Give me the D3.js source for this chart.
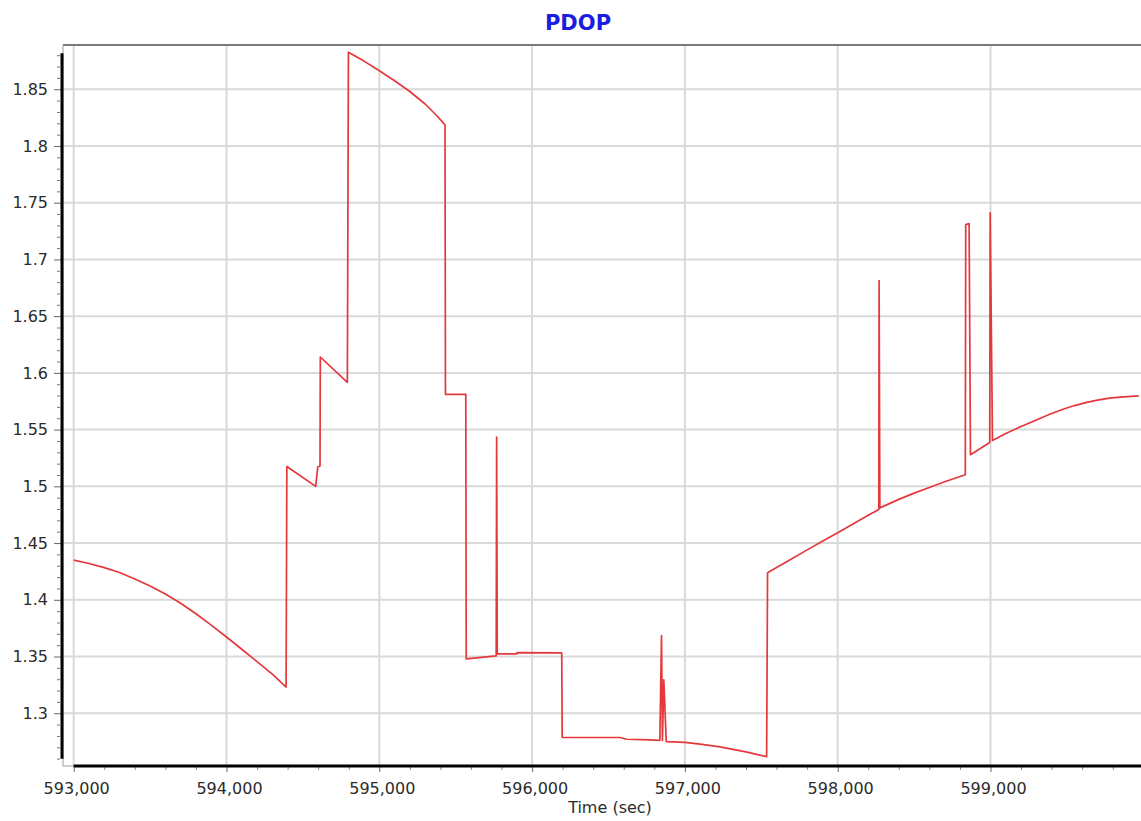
<!DOCTYPE html>
<html>
<head>
<meta charset="utf-8">
<script src="https://cdn.jsdelivr.net/npm/d3@7"></script>
<style>
  html, body { margin: 0; padding: 0; background: #fff; }
  svg { display: block; }
  text { font-family: "DejaVu Sans", Verdana, sans-serif; }
</style>
</head>
<body>
<svg id="chart" width="1141" height="821"></svg>
<script>
// ---- data ----
const titleText = "PDOP";
const xAxisTitle = "Time (sec)";

const timeSec = [
  593000, 593100, 593200, 593300, 593400, 593500, 593600, 593700, 593800, 593900,
  594000, 594100, 594200, 594300, 594390,
  594395, 594584, 594597, 594612, 594614, 594791,
  594798, 594900, 595000, 595100, 595200, 595300, 595380, 595430,
  595433, 595566, 595569, 595765, 595768, 595772, 595899, 595902, 596194,
  596197, 596575, 596619, 596771, 596836, 596847, 596853, 596862, 596878,
  597000, 597100, 597229, 597400, 597535,
  597541, 597600, 597700, 597800, 597900, 598000, 598100, 598200, 598269, 598271, 598276,
  598400, 598500, 598600, 598700, 598835, 598838, 598860, 598869, 598995, 598998, 599013,
  599100, 599200, 599300, 599388, 599470, 599550, 599630, 599700, 599780, 599850, 599970
];
const pdop = [
  1.4350, 1.4320, 1.4284, 1.4240, 1.4183, 1.4121, 1.4051, 1.3969, 1.3877, 1.3777,
  1.3672, 1.3564, 1.3455, 1.3344, 1.3231,
  1.5175, 1.5000, 1.5170, 1.5180, 1.6140, 1.5916,
  1.8827, 1.8748, 1.8663, 1.8575, 1.8480, 1.8370, 1.8262, 1.8186,
  1.5811, 1.5811, 1.3479, 1.3505, 1.5435, 1.3523, 1.3523, 1.3535, 1.3532,
  1.2788, 1.2786, 1.2771, 1.2765, 1.2760, 1.3685, 1.2760, 1.3294, 1.2750,
  1.2744, 1.2728, 1.2703, 1.2660, 1.2617,
  1.4238, 1.4285, 1.4362, 1.4440, 1.4515, 1.4590, 1.4668, 1.4745, 1.4795, 1.6814, 1.4810,
  1.4885, 1.4940, 1.4990, 1.5040, 1.5102, 1.7307, 1.7316, 1.5279, 1.5387, 1.7411, 1.5405,
  1.5466, 1.5528, 1.5585, 1.5635, 1.5677, 1.5712, 1.5740, 1.5760, 1.5777, 1.5787, 1.5797
];

const xMajorTicks = [593000, 594000, 595000, 596000, 597000, 598000, 599000];
const xMinorTicks = [593200, 593400, 593600, 593800, 594200, 594400, 594600, 594800,
  595200, 595400, 595600, 595800, 596200, 596400, 596600, 596800,
  597200, 597400, 597600, 597800, 598200, 598400, 598600, 598800,
  599200, 599400, 599600, 599800];
const yMajorTicks = [1.3, 1.35, 1.4, 1.45, 1.5, 1.55, 1.6, 1.65, 1.7, 1.75, 1.8, 1.85];
const yMajorLabels = ["1.3", "1.35", "1.4", "1.45", "1.5", "1.55", "1.6", "1.65", "1.7", "1.75", "1.8", "1.85"];
const yMinorTicks = [1.26, 1.27, 1.28, 1.29, 1.31, 1.32, 1.33, 1.34, 1.36, 1.37, 1.38, 1.39,
  1.41, 1.42, 1.43, 1.44, 1.46, 1.47, 1.48, 1.49, 1.51, 1.52, 1.53, 1.54,
  1.56, 1.57, 1.58, 1.59, 1.61, 1.62, 1.63, 1.64, 1.66, 1.67, 1.68, 1.69,
  1.71, 1.72, 1.73, 1.74, 1.76, 1.77, 1.78, 1.79, 1.81, 1.82, 1.83, 1.84,
  1.86, 1.87, 1.88];

// ---- layout ----
const plotLeft = 63, plotRight = 1141, plotTop = 45, plotBottom = 766;
const svg = d3.select("#chart");

const x = d3.scaleLinear().domain([592930, 599985]).range([plotLeft, plotRight]);
const y = d3.scaleLinear().domain([1.2535, 1.889]).range([plotBottom, plotTop]);

// grid
const grid = svg.append("g");
grid.selectAll("line.v").data(xMajorTicks).enter().append("line")
  .attr("class", "v")
  .attr("x1", d => x(d)).attr("x2", d => x(d))
  .attr("y1", plotTop).attr("y2", plotBottom)
  .attr("stroke", "#d9d9d9").attr("stroke-width", 2);
grid.selectAll("line.h").data(yMajorTicks).enter().append("line")
  .attr("class", "h")
  .attr("x1", plotLeft).attr("x2", plotRight)
  .attr("y1", d => y(d)).attr("y2", d => y(d))
  .attr("stroke", "#d9d9d9").attr("stroke-width", 2);

// frame
svg.append("line").attr("x1", plotLeft).attr("x2", plotRight).attr("y1", plotTop).attr("y2", plotTop)
  .attr("stroke", "#7a7a7a").attr("stroke-width", 2.2);
svg.append("line").attr("x1", plotLeft).attr("x2", plotLeft).attr("y1", plotTop).attr("y2", plotBottom)
  .attr("stroke", "#9a9a9a").attr("stroke-width", 1);
svg.append("line").attr("x1", plotLeft).attr("x2", plotRight).attr("y1", plotBottom).attr("y2", plotBottom)
  .attr("stroke", "#9a9a9a").attr("stroke-width", 1);

// data line
const line = d3.line().x((d, i) => x(timeSec[i])).y(d => y(d));
svg.append("path").datum(pdop)
  .attr("d", line)
  .attr("fill", "none")
  .attr("stroke", "#e5383c")
  .attr("stroke-width", 1.7)
  .attr("stroke-linejoin", "round");

// y axis
const yAxisG = svg.append("g").attr("transform", `translate(${plotLeft - 1},0)`);
yAxisG.call(d3.axisLeft(y).tickValues(yMajorTicks)
  .tickFormat((d, i) => yMajorLabels[i]).tickSize(8).tickPadding(6));
yAxisG.select(".domain").remove();
yAxisG.selectAll(".tick line").attr("stroke", "#666");
yAxisG.selectAll(".tick text").attr("font-size", 16).attr("fill", "#2b2b2b")
  .style("font-family", "'DejaVu Sans', Verdana, sans-serif");
const yMinorG = svg.append("g").attr("transform", `translate(${plotLeft - 3},0)`);
yMinorG.call(d3.axisLeft(y).tickValues(yMinorTicks).tickFormat("").tickSize(3));
yMinorG.select(".domain").remove();
yMinorG.selectAll(".tick line").attr("stroke", "#777");
svg.append("line")
  .attr("x1", plotLeft - 1).attr("x2", plotLeft - 1)
  .attr("y1", y(d3.max(yMinorTicks)) - 2).attr("y2", y(d3.min(yMinorTicks)))
  .attr("stroke", "#000").attr("stroke-width", 3);

// x axis
const xAxisG = svg.append("g").attr("transform", `translate(0,${plotBottom})`);
xAxisG.call(d3.axisBottom(x).tickValues(xMajorTicks)
  .tickFormat(d3.format(",")).tickSize(6).tickPadding(11));
xAxisG.select(".domain").remove();
xAxisG.selectAll(".tick line").attr("stroke", "#666");
xAxisG.selectAll(".tick text").attr("font-size", 16).attr("fill", "#2b2b2b")
  .attr("dx", 2.5)
  .style("font-family", "'DejaVu Sans', Verdana, sans-serif");
const xMinorG = svg.append("g").attr("transform", `translate(0,${plotBottom})`);
xMinorG.call(d3.axisBottom(x).tickValues(xMinorTicks).tickFormat("").tickSize(4));
xMinorG.select(".domain").remove();
xMinorG.selectAll(".tick line").attr("stroke", "#888");
svg.append("line")
  .attr("x1", x(xMajorTicks[0])).attr("x2", plotRight)
  .attr("y1", plotBottom).attr("y2", plotBottom)
  .attr("stroke", "#000").attr("stroke-width", 3);

// titles
svg.append("text").attr("x", 578).attr("y", 29.5)
  .attr("text-anchor", "middle")
  .attr("font-size", 21).attr("font-weight", "bold").attr("fill", "#1c1ce0")
  .text(titleText);
svg.append("text").attr("x", 610).attr("y", 813)
  .attr("text-anchor", "middle")
  .attr("font-size", 16).attr("fill", "#2b2b2b")
  .text(xAxisTitle);
</script>
</body>
</html>
